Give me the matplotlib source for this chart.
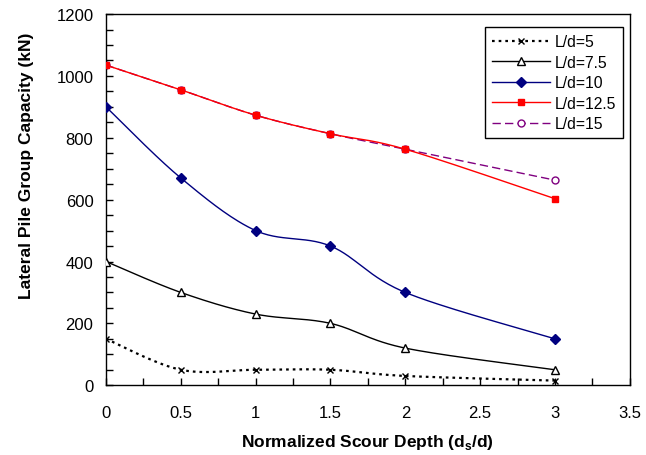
import matplotlib
matplotlib.use('Agg')
import matplotlib.pyplot as plt
import numpy as np

plt.rcParams['font.family'] = ['Liberation Sans', 'DejaVu Sans']

# data
depth = [0, 0.5, 1, 1.5, 2, 3]
cap_5 = [150, 50, 50, 50, 30, 15]
cap_75 = [400, 300, 230, 200, 120, 50]
cap_10 = [900, 670, 500, 450, 300, 150]
cap_125 = [1035, 955, 873, 813, 763, 603]
cap_15 = [1035, 955, 873, 813, 763, 663]
labels = ['L/d=5', 'L/d=7.5', 'L/d=10', 'L/d=12.5', 'L/d=15']

N = 30  # points per segment of the smoothed curve


def smooth(xs, ys):
    # excel-like smoothed line (cubic bezier between points)
    p = np.column_stack([xs, ys]).astype(float)
    n = len(p)
    out = []
    t = np.linspace(0, 1, N, endpoint=False)[:, None]
    for i in range(n - 1):
        p0 = p[i - 1] if i > 0 else p[i]
        p1 = p[i]
        p2 = p[i + 1]
        p3 = p[i + 2] if i + 2 < n else p[i + 1]
        c1 = p1 + (p2 - p0) / 6
        c2 = p2 - (p3 - p1) / 6
        seg = (1 - t)**3 * p1 + 3 * (1 - t)**2 * t * c1 + 3 * (1 - t) * t**2 * c2 + t**3 * p2
        out.append(seg)
    out.append(p[-1][None, :])
    out = np.vstack(out)
    return out[:, 0], out[:, 1]


fig = plt.figure(figsize=(6.46, 4.56), dpi=100)
ax = fig.add_axes([0.164, 0.153, 0.811, 0.814])

styles = [
    dict(color='black', ls=(0, (1.2, 1.8)), lw=1.6, marker='x', ms=4, mew=1, mfc='black', zorder=3),
    dict(color='black', ls='-', lw=1, marker='^', ms=6, mew=1, mfc='white', zorder=3),
    dict(color='#000080', ls='-', lw=1, marker='D', ms=5, mew=1, mfc='#000080', zorder=3),
    dict(color='#FF0000', ls='-', lw=1, marker='s', ms=5, mew=1, mfc='#FF0000', zorder=3),
    dict(color='#800080', ls=(0, (6, 3)), lw=1, marker='o', ms=5, mew=1, mfc='white', zorder=2),
]
series = [cap_5, cap_75, cap_10, cap_125, cap_15]
marks = [i * N for i in range(len(depth))]

for ys, lab, st in zip(series, labels, styles):
    sx, sy = smooth(depth, ys)
    ax.plot(sx, sy, label=lab, markevery=marks, **st)

ax.set_xlim(0, 3.5)
ax.set_ylim(0, 1200)
ax.set_xticks(np.arange(0, 3.51, 0.5))
ax.set_xticklabels(['0', '0.5', '1', '1.5', '2', '2.5', '3', '3.5'])
ax.set_yticks(np.arange(0, 1201, 200))
ax.set_xticks(np.arange(0, 3.51, 0.25), minor=True)
ax.set_yticks(np.arange(0, 1201, 50), minor=True)
ax.tick_params(which='both', direction='in', length=5, width=1, labelsize=12,
               top=False, right=False)
ax.tick_params(axis='x', pad=14)
ax.tick_params(axis='y', pad=9)
for s in ax.spines.values():
    s.set_linewidth(1)

ax.set_xlabel('Normalized Scour Depth (d$_\\mathregular{s}$/d)', fontsize=12.5,
              fontweight='bold')
ax.xaxis.set_label_coords(0.5, -0.125)
ax.set_ylabel('Lateral Pile Group Capacity (kN)', fontsize=12.5, fontweight='bold')
ax.yaxis.set_label_coords(-0.138, 0.593)

leg = ax.legend(loc='upper right', bbox_to_anchor=(0.987, 0.965), fontsize=11.3,
                fancybox=False, framealpha=1, edgecolor='black', handlelength=3.7,
                borderpad=0.45, labelspacing=0.35, handletextpad=0.3,
                borderaxespad=0)
leg.get_frame().set_linewidth(1)

fig.savefig('out.png', dpi=100)
